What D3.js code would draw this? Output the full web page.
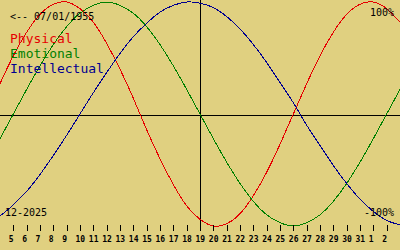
<!DOCTYPE html>
<html>
<head>
<meta charset="utf-8">
<script src="https://cdn.jsdelivr.net/npm/d3@7"></script>
<style>
  body { margin: 0; background: #e0d080; }
  svg { display: block; }
</style>
</head>
<body>
<svg id="chart" width="400" height="250"></svg>
<script>
var WIDTH = 400;
var HEIGHT = 250;

// Days shown, 3 Dec .. 3 Jan (first and last are just off the edges)
var DAY_LABELS = [3, 4, 5, 6, 7, 8, 9, 10, 11, 12, 13, 14, 15, 16, 17, 18, 19,
                  20, 21, 22, 23, 24, 25, 26, 27, 28, 29, 30, 31, 1, 2, 3];

var PHYSICAL = [0, 0.27, 0.52, 0.73, 0.89, 0.98, 1.00, 0.94, 0.82, 0.63, 0.40,
                0.14, -0.14, -0.40, -0.63, -0.82, -0.94, -1.00, -0.98, -0.89,
                -0.73, -0.52, -0.27, 0, 0.27, 0.52, 0.73, 0.89, 0.98, 1.00,
                0.94, 0.82];

var EMOTIONAL = [-0.43, -0.22, 0, 0.22, 0.43, 0.62, 0.78, 0.90, 0.97, 1.00,
                 0.97, 0.90, 0.78, 0.62, 0.43, 0.22, 0, -0.22, -0.43, -0.62,
                 -0.78, -0.90, -0.97, -1.00, -0.97, -0.90, -0.78, -0.62, -0.43,
                 -0.22, 0, 0.22];

var INTELLECTUAL = [-0.97, -0.91, -0.81, -0.69, -0.54, -0.37, -0.19, 0, 0.19,
                    0.37, 0.54, 0.69, 0.81, 0.91, 0.97, 1.00, 0.99, 0.95, 0.87,
                    0.76, 0.62, 0.46, 0.28, 0.10, -0.10, -0.28, -0.46, -0.62,
                    -0.76, -0.87, -0.95, -0.99];

var SERIES_NAMES = ['Physical', 'Emotional', 'Intellectual'];
var SERIES_COLORS = ['#e60000', '#008000', '#000090'];

var TODAY_INDEX = 16;          // 19 Dec
var BIRTH_LABEL = '<-- 07/01/1955';
var MONTH_LABEL = '12-2025';
var PERCENT_LABELS = ['100%', '-100%'];

var MONO = '"DejaVu Sans Mono", "Liberation Mono", monospace';


var svg = d3.select('#chart');

var x = d3.scaleLinear().domain([1, 31]).range([0, WIDTH]);
var y = d3.scaleLinear().domain([-1, 1]).range([226, 2]);

svg.append('rect')
    .attr('width', WIDTH)
    .attr('height', HEIGHT)
    .attr('fill', '#e0d080');

// zero line and today line
svg.append('line')
    .attr('x1', 0).attr('x2', WIDTH)
    .attr('y1', 115.5).attr('y2', 115.5)
    .attr('stroke', '#000')
    .attr('shape-rendering', 'crispEdges');

svg.append('line')
    .attr('x1', x(TODAY_INDEX) + 0.5).attr('x2', x(TODAY_INDEX) + 0.5)
    .attr('y1', 0).attr('y2', 231)
    .attr('stroke', '#000')
    .attr('shape-rendering', 'crispEdges');

// curves
var line = d3.line()
    .x(function(d, i) { return x(i); })
    .y(function(d) { return y(d); })
    .curve(d3.curveNatural);

[PHYSICAL, EMOTIONAL, INTELLECTUAL].forEach(function(values, s) {
  svg.append('path')
      .datum(values)
      .attr('d', line)
      .attr('fill', 'none')
      .attr('stroke', SERIES_COLORS[s])
      .attr('stroke-width', 1)
      .attr('shape-rendering', 'crispEdges');
});

// day axis
var axis = d3.axisBottom(x)
    .tickValues(d3.range(2, 31))
    .tickSize(6)
    .tickFormat(function(i) { return DAY_LABELS[i]; });

var axisG = svg.append('g')
    .attr('transform', 'translate(0,225)')
    .call(axis);

axisG.select('.domain').remove();
axisG.selectAll('line').attr('stroke', '#000').attr('shape-rendering', 'crispEdges');
axisG.selectAll('text')
    .attr('text-anchor', 'start')
    .attr('x', -5)
    .attr('y', 16.5)
    .attr('dy', null)
    .attr('fill', '#000')
    .attr('font-family', MONO)
    .attr('font-weight', 'bold')
    .attr('font-size', 8);

// labels
svg.append('text')
    .attr('x', 10).attr('y', 20)
    .attr('font-family', MONO).attr('font-size', 10)
    .text(BIRTH_LABEL);

svg.selectAll('.legend')
    .data(SERIES_NAMES)
    .enter()
    .append('text')
      .attr('class', 'legend')
      .attr('x', 10)
      .attr('y', function(d, i) { return 43 + i * 15; })
      .attr('fill', function(d, i) { return SERIES_COLORS[i]; })
      .attr('font-family', MONO)
      .attr('font-size', 13)
      .text(function(d) { return d; });

svg.append('text')
    .attr('x', 5).attr('y', 216)
    .attr('font-family', MONO).attr('font-size', 10)
    .text(MONTH_LABEL);

svg.selectAll('.pct')
    .data(PERCENT_LABELS)
    .enter()
    .append('text')
      .attr('class', 'pct')
      .attr('x', 394)
      .attr('y', function(d, i) { return i === 0 ? 16 : 216; })
      .attr('text-anchor', 'end')
      .attr('font-family', MONO)
      .attr('font-size', 10)
      .text(function(d) { return d; });
</script>
</body>
</html>
